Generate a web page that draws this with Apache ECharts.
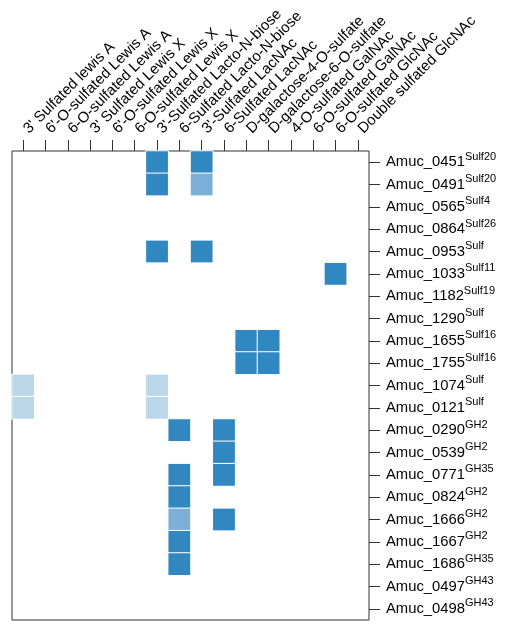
<!DOCTYPE html>
<html>
<head>
<meta charset="utf-8">
<script src="https://cdn.jsdelivr.net/npm/echarts@6/dist/echarts.min.js"></script>
<style>
  html, body { margin: 0; padding: 0; background: #fff; }
  #main { width: 512px; height: 634px; }
</style>
</head>
<body>
<div id="main"></div>
<script>
// 底物（列）
let substrates = [
    "3' Sulfated lewis A", "6'-O-sulfated Lewis A", "6-O-sulfated Lewis A",
    "3' Sulfated Lewis X", "6'-O-sulfated Lewis X", "6-O-sulfated Lewis X",
    "3'-Sulfated Lacto-N-biose", "6-Sulfated Lacto-N-biose",
    "3'-Sulfated LacNAc", "6-Sulfated LacNAc",
    "D-galactose-4-O-sulfate", "D-galactose-6-O-sulfate",
    "4-O-sulfated GalNAc", "6-O-sulfated GalNAc",
    "6-O-sulfated GlcNAc", "Double sulfated GlcNAc"
]
// 基因（行）和家族上标
let genes = [
    'Amuc_0451', 'Amuc_0491', 'Amuc_0565', 'Amuc_0864', 'Amuc_0953', 'Amuc_1033',
    'Amuc_1182', 'Amuc_1290', 'Amuc_1655', 'Amuc_1755', 'Amuc_1074', 'Amuc_0121',
    'Amuc_0290', 'Amuc_0539', 'Amuc_0771', 'Amuc_0824', 'Amuc_1666', 'Amuc_1667',
    'Amuc_1686', 'Amuc_0497', 'Amuc_0498'
]
let families = [
    'Sulf20', 'Sulf20', 'Sulf4', 'Sulf26', 'Sulf', 'Sulf11',
    'Sulf19', 'Sulf', 'Sulf16', 'Sulf16', 'Sulf', 'Sulf',
    'GH2', 'GH2', 'GH35', 'GH2', 'GH2', 'GH2',
    'GH35', 'GH43', 'GH43'
]
// [列, 行, 等级]  1=弱 2=中 3=强
let cells = [
    [6, 0, 3], [8, 0, 3],
    [6, 1, 3], [8, 1, 2],
    [6, 4, 3], [8, 4, 3],
    [14, 5, 3],
    [10, 8, 3], [11, 8, 3],
    [10, 9, 3], [11, 9, 3],
    [0, 10, 1], [6, 10, 1],
    [0, 11, 1], [6, 11, 1],
    [7, 12, 3], [9, 12, 3],
    [9, 13, 3],
    [7, 14, 3], [9, 14, 3],
    [7, 15, 3],
    [7, 16, 2], [9, 16, 3],
    [7, 17, 3],
    [7, 18, 3]
]
let levelColors = ['#bcd7ea', '#7bafd5', '#3187c0']

let myChart = echarts.init(document.getElementById('main'))

let option = {
    animation: false,
    textStyle: { fontFamily: 'Liberation Sans, Arial, sans-serif' },
    grid: {
        left: 12, top: 151, width: 357, height: 469,
        outerBoundsMode: 'none',
        containLabel: false,
        show: true, borderColor: '#333', borderWidth: 1, backgroundColor: '#fff'
    },
    xAxis: {
        type: 'category',
        position: 'top',
        data: substrates,
        splitLine: { show: false },
        axisLine: { show: false },
        axisTick: { show: true, alignWithLabel: true, length: 11, lineStyle: { color: '#333' } },
        axisLabel: { rotate: -45, interval: 0, margin: 17, padding: [8, 0, 0, 4], color: '#000', fontSize: 15 }
    },
    yAxis: {
        type: 'category',
        position: 'right',
        inverse: true,
        data: genes,
        splitLine: { show: false },
        axisLine: { show: false },
        axisTick: { show: true, alignWithLabel: true, length: 11, lineStyle: { color: '#333' } },
        axisLabel: {
            interval: 0,
            margin: 17,
            color: '#000',
            formatter: function (v, i) {
                return '{a|' + v + '}{s|' + families[i] + '}'
            },
            rich: {
                a: { fontSize: 14.8, lineHeight: 22, verticalAlign: 'middle', color: '#000' },
                s: { fontSize: 11, lineHeight: 10, verticalAlign: 'top', color: '#000' }
            }
        }
    },
    visualMap: {
        type: 'piecewise',
        show: false,
        dimension: 2,
        pieces: [
            { value: 1, color: levelColors[0] },
            { value: 2, color: levelColors[1] },
            { value: 3, color: levelColors[2] }
        ]
    },
    series: [{
        type: 'heatmap',
        data: cells,
        itemStyle: { borderColor: '#fff', borderWidth: 1 },
        emphasis: { disabled: true }
    }]
}

myChart.setOption(option)
</script>
</body>
</html>
